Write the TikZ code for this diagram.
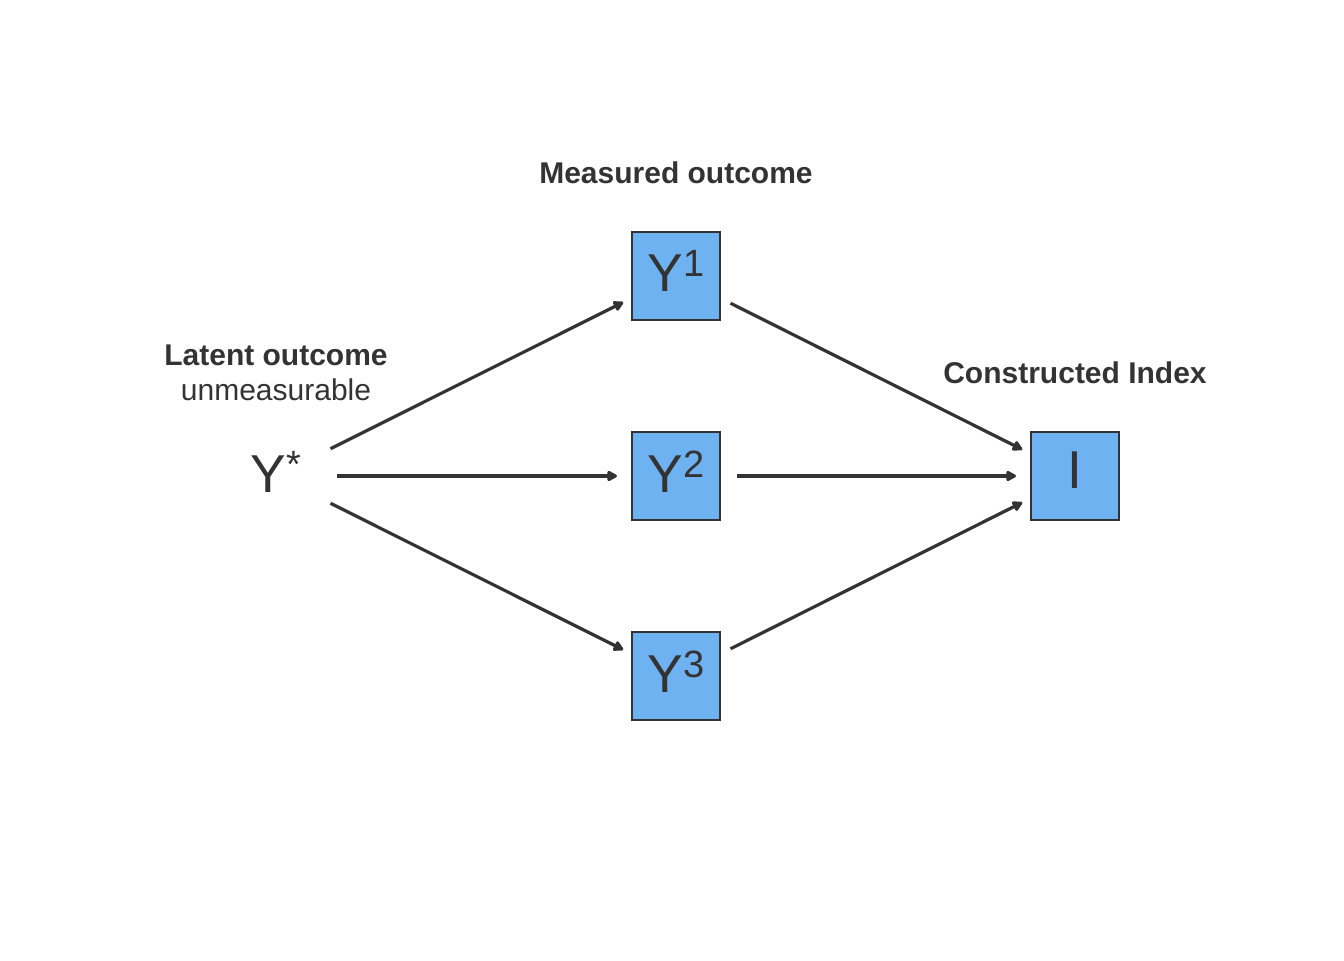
\documentclass[tikz,border=0pt]{standalone}
\usepackage{fontspec}
\setmainfont{Liberation Sans}
\usetikzlibrary{positioning,arrows.meta}

\definecolor{boxblue}{HTML}{6FB2F2}
\definecolor{ink}{HTML}{333333}
\newcommand{\sups}[1]{\raisebox{11.25pt}{\fontsize{28.5}{28.5}\selectfont #1}}

\begin{document}
\begin{tikzpicture}[x=0.75pt, y=-0.75pt,
    varbox/.style = {shape=rectangle, draw=ink, line width=1.1pt,
    fill=boxblue, minimum size=66pt, inner sep=0pt, text=ink,
    font=\fontsize{40}{40}\selectfont, text height=30pt, text depth=6pt},
    caption/.style = {text=ink, inner sep=0pt, align=center,
    font=\fontsize{22.5}{26.25}\selectfont},
    line/.style={draw=ink, line width=2.4pt,
    -{Triangle[length=8.5pt,width=8.5pt,round]},
    shorten <=45.75pt, shorten >=44.25pt}]

    \useasboundingbox (0,0) rectangle (1344,960);

    \node[varbox] (y2) at (676,476) {Y\sups{2}};
    \node[varbox, above=83pt of y2] (y1) {Y\sups{1}};
    \node[varbox, below=83pt of y2] (y3) {Y\sups{3}};
    \node[varbox, right=232.15pt of y2, text height=27pt, text depth=9pt] (idx) {I};

    \node[text=ink, inner sep=0pt, font=\fontsize{40}{40}\selectfont,
      text height=30.25pt, text depth=6.25pt] (ys) at (276,476) {Y\sups{*}};

    \node[caption, above=37.5pt of ys] (latent) {\bfseries Latent outcome\\unmeasurable};
    \node[caption, font=\fontsize{22.5}{26.25}\selectfont\bfseries, above=35.5pt of y1] (measured) {Measured outcome};
    \node[caption, font=\fontsize{22.5}{26.25}\selectfont\bfseries, above=35.5pt of idx] (constructed) {Constructed Index};

  \draw [line] (ys.center) -- (y1.center);
  \draw [line] (ys.center) -- (y2.center);
  \draw [line] (ys.center) -- (y3.center);
  \draw [line] (y1.center) -- (idx.center);
  \draw [line] (y2.center) -- (idx.center);
  \draw [line] (y3.center) -- (idx.center);

  \end{tikzpicture}
\end{document}
